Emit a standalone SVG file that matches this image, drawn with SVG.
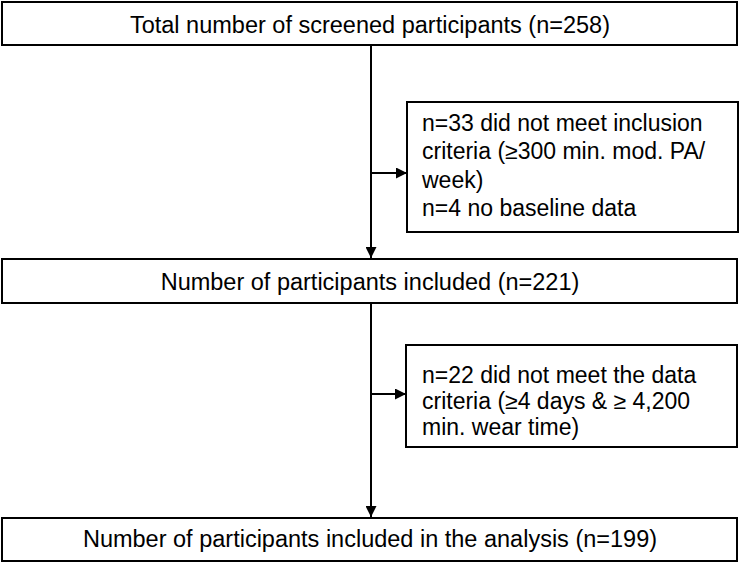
<svg xmlns="http://www.w3.org/2000/svg" width="740" height="563" viewBox="0 0 740 563">
<defs>
<style>
.box{fill:#fff;stroke:#000;stroke-width:2}
.t{font-family:"Liberation Sans",Arial,sans-serif;font-size:23.5px;fill:#000}
.s{font-size:23px}
.c{text-anchor:middle}
.ln{stroke:#000;stroke-width:2;fill:none}
</style>
<marker id="ah" viewBox="0 0 10 10" refX="10" refY="5" markerWidth="11" markerHeight="11" markerUnits="userSpaceOnUse" orient="auto">
<path d="M0,0 L10,5 L0,10 Z" fill="#000"/>
</marker>
</defs>
<rect width="740" height="563" fill="#fff"/>
<g id="connectors">
<line class="ln" x1="371" y1="45" x2="371" y2="258" marker-end="url(#ah)"/>
<line class="ln" x1="371" y1="173" x2="407" y2="173" marker-end="url(#ah)"/>
<line class="ln" x1="371" y1="303" x2="371" y2="517" marker-end="url(#ah)"/>
<line class="ln" x1="371" y1="394" x2="406" y2="394" marker-end="url(#ah)"/>
</g>
<g id="n1">
<rect class="box" x="2" y="2" width="735" height="43"/>
<text class="t c" x="370" y="33">Total number of screened participants (n=258)</text>
</g>
<g id="n2">
<rect class="box" x="407" y="102" width="331" height="130"/>
<text class="t s" x="422" y="131">n=33 did not meet inclusion</text>
<text class="t s" x="422" y="159">criteria (≥300 min. mod. PA/</text>
<text class="t s" x="422" y="188">week)</text>
<text class="t s" x="422" y="216">n=4 no baseline data</text>
</g>
<g id="n3">
<rect class="box" x="2" y="259" width="735" height="44"/>
<text class="t c" x="370" y="290">Number of participants included (n=221)</text>
</g>
<g id="n4">
<rect class="box" x="406" y="345" width="331" height="102"/>
<text class="t s" x="422" y="383">n=22 did not meet the data</text>
<text class="t s" x="422" y="409">criteria (≥4 days &amp; ≥ 4,200</text>
<text class="t s" x="422" y="435">min. wear time)</text>
</g>
<g id="n5">
<rect class="box" x="2" y="518" width="735" height="43"/>
<text class="t c" x="370" y="547">Number of participants included in the analysis (n=199)</text>
</g>
</svg>
